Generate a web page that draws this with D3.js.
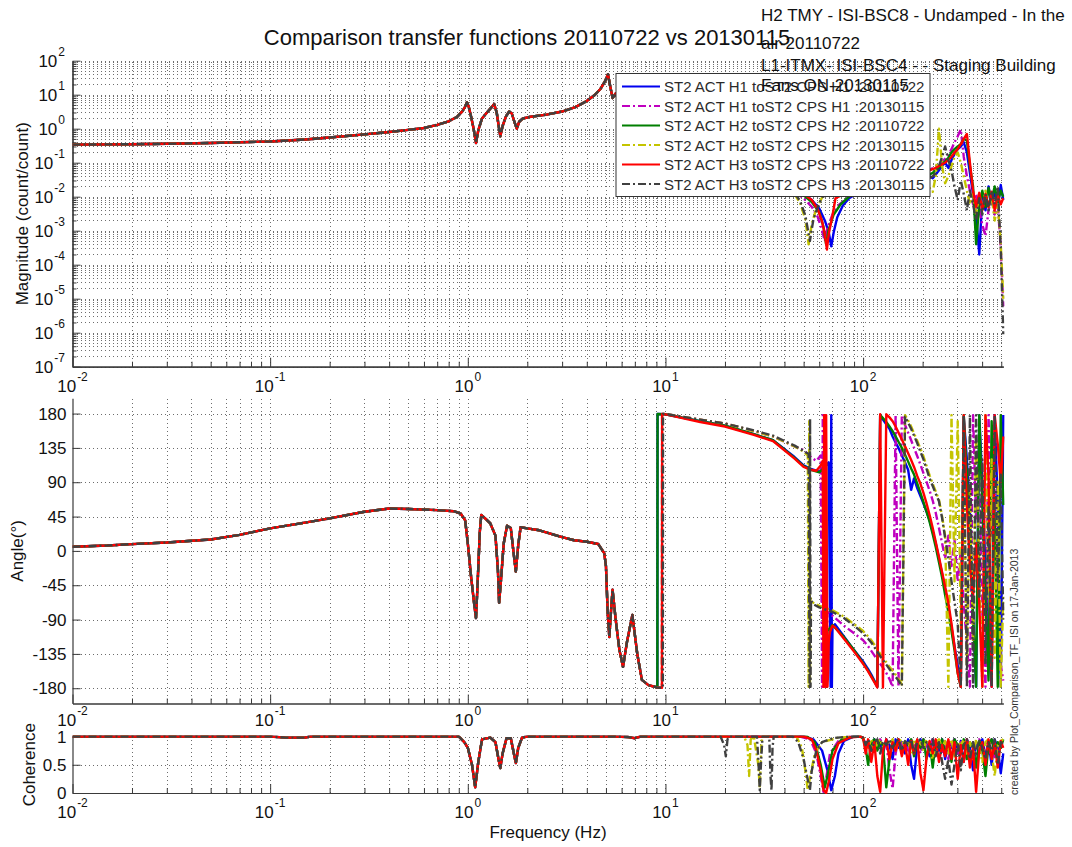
<!DOCTYPE html>
<html>
<head>
<meta charset="utf-8">
<script src="https://d3js.org/d3.v7.min.js"></script>
<style>
  html, body { margin: 0; padding: 0; background: #fff; }
  svg { display: block; font-family: "Liberation Sans", Arial, Helvetica, sans-serif; }
</style>
</head>
<body>
<svg id="chart" width="1072" height="847"></svg>
<script>
// ---------------------------------------------------------------------------
// Data: transfer functions ST2 ACT -> ST2 CPS, H1/H2/H3, two measurement dates
// Pairs are [frequency Hz, value]; the "Hi" arrays follow freqHi.
// ---------------------------------------------------------------------------

// Magnitude below 45 Hz (all six measurements lie on top of each other)
const magLow = [[0.01,0.34],[0.02,0.35],[0.03,0.36],[0.05,0.38],[0.07,0.4],[0.1,0.42],[0.15,0.48],[0.2,0.55],
  [0.3,0.68],[0.4,0.8],[0.5,0.92],[0.6,1.05],[0.7,1.3],[0.8,1.65],[0.88,2.2],[0.94,3.3],[0.97,4.5],[0.99,6.0],
  [1.01,4.5],[1.04,2.2],[1.07,1.0],[1.1,0.38],[1.13,0.9],[1.18,2.0],[1.25,3.0],[1.32,4.3],[1.36,5.3],[1.4,3.0],
  [1.43,1.3],[1.46,0.6],[1.5,1.2],[1.56,2.3],[1.62,3.2],[1.67,2.8],[1.72,1.6],[1.77,1.0],[1.82,1.6],[1.9,2.0],
  [2.04,2.2],[2.5,2.6],[3.0,3.2],[3.5,4.3],[4.0,6.5],[4.4,10],[4.7,15],[4.95,25],[5.12,40],[5.25,18],[5.4,8],
  [5.6,11],[5.9,5],[6.2,3.5],[6.5,4.5],[6.9,2.5],[7.5,1.8],[9,1.1],[12,0.6],[15,0.35],[20,0.17],[28,0.07],
  [35,0.035],[40,0.022]];

// Phase below 9 Hz (degrees)
const phaseLow = [[0.01,5.5],[0.015,7],[0.02,8.9],[0.03,11],[0.05,15],[0.07,21],[0.1,29.5],[0.15,37],[0.2,42.6],
  [0.3,51.3],[0.4,55.5],[0.5,55],[0.7,53.5],[0.85,52],[0.92,49],[0.97,40],[1.0,10],[1.04,-35],[1.08,-72],
  [1.1,-88],[1.12,-45],[1.15,25],[1.17,47],[1.22,43],[1.3,36],[1.38,20],[1.42,-25],[1.44,-68],[1.47,-40],
  [1.52,10],[1.58,33],[1.65,30],[1.7,0],[1.75,-27],[1.8,8],[1.85,31],[2.0,29.5],[2.3,27],[3.0,18],[3.45,14],
  [4.0,12],[4.57,9],[4.9,-3],[5.0,-20],[5.1,-80],[5.2,-113],[5.3,-80],[5.4,-51],[5.6,-90],[5.85,-130],
  [6.1,-152],[6.4,-118],[6.8,-84],[7.2,-135],[7.6,-169],[8.2,-176],[8.8,-178]];

// Coherence below 10 Hz
const cohLow = [[0.01,1],[0.1,1],[0.12,0.98],[0.15,0.98],[0.16,1],[0.9,1],[0.96,0.9],[1.0,0.8],[1.05,0.5],
  [1.09,0.1],[1.13,0.55],[1.18,0.95],[1.3,0.98],[1.38,0.9],[1.43,0.6],[1.46,0.44],[1.5,0.7],[1.57,0.97],
  [1.65,0.97],[1.71,0.7],[1.75,0.53],[1.8,0.8],[1.88,0.98],[2,1],[5.5,1],[6.5,0.99],[7,0.97],[7.5,1],[9.5,1]];

// Shared frequency grid for the high band
const freqHi = [100,103,106,110,114,118,122,126,131,136,141,146,151,157,163,169,175,181,188,195,202,209,217,
  225,233,242,251,260,270,280,290,301,312,323,335,347,360,373,387,401,416,431,447,463,480,497,512];

// --- H1, 20110722 ---
const magMidH1a = [[45,0.016],[50,0.012],[55,0.008],[60,0.0045],[64,0.002],[67,0.0009],[69,0.00035],[71,0.0009],
  [74,0.0025],[79,0.0055],[85,0.009],[92,0.012]];
const magHiH1a = [0.015,0.016,0.017,0.019,0.02,0.022,0.023,0.025,0.026,0.028,0.03,0.032,0.034,0.035,0.037,
  0.04,0.042,0.045,0.05,0.055,0.06,0.05,0.04,0.035,0.045,0.06,0.08,0.1,0.07,0.12,0.18,0.25,0.3,0.4,0.2,
  0.05,0.012,0.003,0.0002,0.01,0.004,0.02,0.006,0.015,0.005,0.022,0.008];
const phaseMidH1a = [[9.0,-179],[9.1,-179.5],[9.12,179.5],[10,179],[15,170],[20,164],[28,153],[35,145],[45,123],
  [50,112],[55,107],[60,104],[64,110],[67,116],[68.5,-178],[69,178],[69.5,-178],[70,-100],[72,-96],[80,-112],[90,-130]];
const phaseHiH1a = [-145,-150,-155,-162,-170,-178,178,172,166,160,150,142,135,125,116,106,80,95,82,72,62,52,40,25,
  10,-10,-30,-50,-75,-100,-125,-150,-178,175,120,50,-90,-178,178,90,-20,-120,-178,178,60,-178,178];
const cohMidH1a = [[10,1],[50,1],[56,0.95],[62,0.75],[66,0.4],[69,0.05],[72,0.3],[75,0.7],[80,0.92],[90,1],[97,1]];
const cohHiH1a = [0.97,0.85,0.92,0.75,0.95,0.8,0.9,0.7,0.95,0.85,0.6,0.95,0.8,0.9,0.7,0.95,0.5,0.25,0.85,0.95,
  0.8,0.9,0.65,0.95,0.85,0.75,0.95,0.6,0.9,0.8,0.95,0.7,0.92,0.55,0.95,0.8,0.4,0.9,0.75,0.95,0.65,0.9,0.5,0.95,
  0.8,0.35,0.7];

// --- H1, 20130115 ---
const magMidH1b = [[45,0.014],[50,0.009],[55,0.005],[59,0.0025],[62,0.001],[64,0.0005],[66,0.0012],[70,0.003],
  [76,0.006],[85,0.01],[92,0.012]];
const magHiH1b = [0.014,0.015,0.016,0.017,0.018,0.02,0.021,0.022,0.024,0.025,0.027,0.028,0.03,0.032,0.034,
  0.036,0.038,0.04,0.043,0.046,0.05,0.055,0.06,0.07,0.08,0.09,0.11,0.13,0.17,0.25,0.4,0.6,0.95,0.15,0.04,
  0.015,0.006,0.012,0.004,0.0015,0.0007,0.004,0.01,0.003,0.006,0.0003,0.000006];
const phaseMidH1b = [[9.0,-179],[9.6,-179.5],[9.62,179.5],[10,179.5],[15,172],[20,167],[28,157],[35,150],[45,137],
  [50,132],[55,122],[58,118],[61,125],[62,-178],[62.5,178],[63.5,-178],[64,178],[65,-178],[66,-80],[70,-85],
  [80,-98],[90,-108]];
const phaseHiH1b = [-117,-121,-125,-131,-137,-143,-148,-153,-160,-168,-178,178,-178,178,165,155,145,135,124,113,
  102,91,79,66,50,30,10,-10,20,-20,15,-40,0,-70,-120,-178,178,40,100,-80,-178,178,20,80,-60,-150,-170];
const cohMidH1b = [[10,1],[48,1],[54,0.95],[58,0.7],[61,0.3],[63,0.02],[65,0.25],[68,0.7],[75,0.92],[85,1],[97,1]];
const cohHiH1b = [0.97,0.85,0.95,0.8,0.92,0.75,0.95,0.85,0.9,0.4,0.08,0.7,0.95,0.85,0.9,0.75,0.95,0.8,0.92,0.7,
  0.95,0.85,0.75,0.95,0.8,0.9,0.7,0.95,0.6,0.88,0.95,0.7,0.9,0.8,0.95,0.65,0.9,0.55,0.95,0.8,0.9,0.7,0.95,0.6,
  0.85,0.9,0.95];

// --- H2, 20110722 ---
const magMidH2a = [[45,0.015],[50,0.011],[55,0.007],[60,0.0035],[63,0.0013],[65,0.0004],[67,0.0011],[71,0.003],
  [77,0.006],[85,0.01],[92,0.013]];
const magHiH2a = [0.016,0.017,0.018,0.019,0.02,0.021,0.023,0.024,0.026,0.027,0.029,0.031,0.033,0.035,0.037,
  0.039,0.041,0.043,0.046,0.05,0.054,0.05,0.045,0.05,0.06,0.07,0.09,0.11,0.14,0.2,0.25,0.3,0.35,0.5,0.45,
  0.08,0.02,0.0004,0.006,0.015,0.005,0.018,0.008,0.02,0.007,0.015,0.01];
const phaseMidH2a = [[9.0,-179],[9.1,-179.5],[9.12,179.5],[10,179],[15,170],[20,164],[28,153],[35,145],[45,122],
  [50,111],[55,106],[60,103],[63,108],[65,115],[65.5,-178],[66,-105],[70,-97],[80,-113],[90,-130]];
const phaseHiH2a = [-147,-152,-157,-164,-171,-178,178,174,169,163,157,150,143,135,126,117,108,100,88,76,64,52,38,
  22,5,-15,-35,-58,-80,-105,-130,-160,-178,178,100,20,-80,-178,178,60,-60,-170,170,40,-178,178,60];
const cohMidH2a = [[10,1],[52,1],[57,0.9],[61,0.5],[64,0.1],[66,0.3],[70,0.75],[78,0.95],[90,1],[97,1]];
const cohHiH2a = [0.96,0.8,0.5,0.9,0.95,0.75,0.9,0.85,0.1,0.6,0.92,0.8,0.95,0.7,0.9,0.85,0.95,0.65,0.9,0.8,
  0.95,0.6,0.9,0.45,0.92,0.8,0.95,0.7,0.9,0.55,0.95,0.85,0.7,0.95,0.6,0.9,0.8,0.45,0.92,0.75,0.3,0.85,0.95,0.7,
  0.9,0.8,0.95];

// --- H2, 20130115 ---
const magMidH2b = [[45,0.012],[48,0.0065],[51,0.0022],[53,0.0004],[55,0.0016],[58,0.0045],[62,0.0095],[70,0.015],
  [80,0.019],[92,0.023]];
const magHiH2b = [0.025,0.025,0.026,0.027,0.028,0.029,0.03,0.03,0.031,0.032,0.033,0.033,0.034,0.034,0.033,
  0.032,0.03,0.028,0.026,0.024,0.022,0.02,0.018,0.014,0.04,1.0,0.08,0.025,0.04,0.08,0.15,0.2,0.1,0.04,0.015,
  0.006,0.012,0.003,0.012,0.004,0.015,0.005,0.01,0.002,0.006,0.0004,0.00001];
const phaseMidH2b = [[9.0,-179],[9.6,-179.5],[9.62,179.5],[10,179.5],[15,172],[20,167],[28,157],[35,150],[45,137],
  [50,130],[52.5,125],[53,-178],[53.4,170],[53.8,-178],[54.2,-62],[56,-68],[60,-72],[70,-78],[80,-86],[90,-96]];
const phaseHiH2b = [-105,-109,-112,-117,-123,-129,-135,-140,-146,-152,-157,-162,-168,-175,178,171,163,154,144,134,
  124,112,99,88,78,67,45,20,-178,178,-40,170,-100,120,-150,80,-120,150,-20,-178,178,-60,120,-140,90,-178,-60];
const cohMidH2b = [[10,1],[25,1],[26,0.85],[26.5,0.3],[27,0.95],[28,1],[29.5,0.5],[30,0.1],[30.6,0.9],[31,1],
  [46,1],[49,0.8],[51,0.4],[52.5,0.05],[54,0.3],[57,0.7],[62,0.9],[75,0.98],[97,1]];
const cohHiH2b = [0.98,0.9,0.8,0.95,0.7,0.9,0.95,0.8,0.92,0.85,0.95,0.75,0.9,0.95,0.8,0.92,0.7,0.95,0.85,0.9,
  0.75,0.95,0.8,0.6,0.9,0.95,0.8,0.92,0.7,0.95,0.65,0.9,0.85,0.95,0.7,0.9,0.6,0.95,0.8,0.55,0.9,0.95,0.7,0.3,
  0.85,0.92,0.95];

// --- H3, 20110722 ---
const magMidH3a = [[45,0.015],[50,0.012],[55,0.008],[59,0.0042],[62,0.0019],[64,0.0008],[65.6,0.00028],[67,0.0008],
  [70,0.0028],[72.5,0.009],[80,0.012],[92,0.014]];
const magHiH3a = [0.016,0.017,0.018,0.02,0.021,0.022,0.023,0.025,0.026,0.027,0.029,0.03,0.032,0.034,0.036,
  0.038,0.04,0.042,0.045,0.048,0.052,0.056,0.06,0.065,0.07,0.08,0.09,0.1,0.12,0.15,0.2,0.25,0.35,0.5,0.7,
  0.1,0.015,0.005,0.013,0.004,0.012,0.005,0.014,0.004,0.011,0.006,0.009];
const phaseMidH3a = [[9.0,-179],[9.6,-179.5],[9.62,179.5],[10,179],[15,169],[20,163],[28,152],[35,144],[45,121],
  [50,110],[55,106],[58,105],[61,112],[62.5,118],[63,-178],[63.5,178],[64.5,-178],[65,178],[66,-178],[66.5,-160],
  [67,-120],[68,-106],[70,-98],[72,-100],[80,-115],[90,-132]];
const phaseHiH3a = [-148,-153,-158,-165,-172,-179,179,-179,179,175,170,163,155,146,137,128,119,110,98,88,76,63,47,
  30,12,-8,-28,-47,-68,-95,-125,-160,-178,178,60,-20,-60,10,-70,-178,178,100,-178,178,140,90,150];
const cohMidH3a = [[10,1],[50,1],[55,0.95],[58,0.75],[61,0.4],[63,0.05],[65,0.0],[67,0.2],[70,0.6],[75,0.88],
  [85,0.98],[97,1]];
const cohHiH3a = [0.98,0.7,0.95,0.55,0.9,0.3,0.02,0.75,0.95,0.6,0.9,0.75,0.95,0.65,0.88,0.5,0.92,0.7,0.95,0.35,
  0.05,0.6,0.92,0.7,0.95,0.55,0.85,0.65,0.95,0.6,0.9,0.25,0.85,0.55,0.95,0.45,0.8,0.02,0.75,0.9,0.5,0.95,0.6,
  0.88,0.45,0.92,0.8];

// --- H3, 20130115 ---
const magMidH3b = [[45,0.013],[48,0.0075],[51,0.0028],[53.8,0.0005],[56,0.0021],[59,0.005],[62,0.0097],[70,0.014],
  [80,0.019],[92,0.023]];
const magHiH3b = [0.025,0.026,0.027,0.028,0.029,0.03,0.031,0.032,0.033,0.034,0.035,0.036,0.036,0.036,0.035,
  0.034,0.033,0.032,0.031,0.03,0.03,0.032,0.035,0.04,0.05,0.08,0.15,0.3,0.12,0.06,0.02,0.008,0.03,0.012,0.004,
  0.015,0.006,0.002,0.009,0.003,0.012,0.004,0.015,0.006,0.02,0.0003,0.0000009];
const phaseMidH3b = [[9.0,-179],[9.7,-179.5],[9.72,179.5],[10,179.5],[15,172],[20,167],[28,158],[35,151],[45,138],
  [50,131],[53,127],[53.6,-178],[53.9,173],[54.2,-178],[54.5,-65],[56,-70],[60,-74],[70,-80],[80,-88],[90,-98]];
const phaseHiH3b = [-108,-112,-115,-120,-126,-132,-138,-143,-149,-155,-160,-165,-170,-177,176,168,160,151,141,130,
  120,108,95,85,75,65,43,17,-10,-40,-67,-95,-178,178,-178,178,-178,178,-60,120,-150,60,-178,178,-40,100,-90];
const cohMidH3b = [[10,1],[19,1],[19.8,0.85],[20.2,0.65],[20.6,0.95],[21,1],[29,1],[29.5,0.6],[30,0.05],[30.5,0.6],
  [31,1],[33.5,1],[34,0.3],[34.4,0.05],[34.8,0.8],[35.3,1],[44,1],[47,0.9],[50,0.6],[52,0.3],[53.8,0.05],[55,0.4],
  [58,0.75],[62,0.9],[70,0.97],[85,1],[97,1]];
const cohHiH3b = [0.98,0.85,0.95,0.75,0.9,0.95,0.7,0.92,0.85,0.95,0.8,0.9,0.95,0.75,0.92,0.85,0.95,0.7,0.9,0.95,
  0.8,0.9,0.75,0.95,0.65,0.9,0.55,0.25,0.6,0.15,0.5,0.9,0.4,0.85,0.95,0.6,0.9,0.7,0.95,0.8,0.6,0.9,0.75,0.95,
  0.5,0.9,0.85];

// Legend labels, in plotting order
const seriesLabels = [
  "ST2 ACT H1 toST2 CPS H1 :20110722",
  "ST2 ACT H1 toST2 CPS H1 :20130115",
  "ST2 ACT H2 toST2 CPS H2 :20110722",
  "ST2 ACT H2 toST2 CPS H2 :20130115",
  "ST2 ACT H3 toST2 CPS H3 :20110722",
  "ST2 ACT H3 toST2 CPS H3 :20130115"
];

// Tick labels
const freqTickExps = [-2, -1, 0, 1, 2];
const magTickExps = [2, 1, 0, -1, -2, -3, -4, -5, -6, -7];
const phaseTicks = [180, 135, 90, 45, 0, -45, -90, -135, -180];
const cohTicks = [1, 0.5, 0];

// ---------------------------------------------------------------------------
// Layout and styling
// ---------------------------------------------------------------------------
const W = 1072, H = 847;
const left = 72.5, right = 1003.3;
const magBox = { top: 60.7, bottom: 366.7 };
const phBox = { top: 398.3, bottom: 703.5 };
const cohBox = { top: 736.5, bottom: 793 };

const styles = [
  { color: "#0000f0", dash: null },
  { color: "#bf00bf", dash: "8,3,2,3" },
  { color: "#007f00", dash: null },
  { color: "#c4c400", dash: "8,3,2,3" },
  { color: "#ff0000", dash: null },
  { color: "#404040", dash: "8,3,2,3" }
];

const hi = vals => freqHi.map((f, i) => [f, vals[i]]);
const series = [
  [magMidH1a, magHiH1a, phaseMidH1a, phaseHiH1a, cohMidH1a, cohHiH1a],
  [magMidH1b, magHiH1b, phaseMidH1b, phaseHiH1b, cohMidH1b, cohHiH1b],
  [magMidH2a, magHiH2a, phaseMidH2a, phaseHiH2a, cohMidH2a, cohHiH2a],
  [magMidH2b, magHiH2b, phaseMidH2b, phaseHiH2b, cohMidH2b, cohHiH2b],
  [magMidH3a, magHiH3a, phaseMidH3a, phaseHiH3a, cohMidH3a, cohHiH3a],
  [magMidH3b, magHiH3b, phaseMidH3b, phaseHiH3b, cohMidH3b, cohHiH3b]
].map((d, i) => ({
  label: seriesLabels[i],
  color: styles[i].color,
  dash: styles[i].dash,
  mag: magLow.concat(d[0], hi(d[1])),
  phase: phaseLow.concat(d[2], hi(d[3])),
  coh: cohLow.concat(d[4], hi(d[5]))
}));

// Scales
const x = d3.scaleLog().domain([0.01, 512]).range([left, right]);
const yMag = d3.scaleLog().domain([1e-7, 1e2]).range([magBox.bottom, magBox.top]);
const yPh = d3.scaleLinear().domain([-200, 200]).range([phBox.bottom, phBox.top]);
const yCoh = d3.scaleLinear().domain([0, 1]).range([cohBox.bottom, cohBox.top]);

// tick positions on log axes: 1..9 x 10^k
function logSteps(lo, hi, majorOnly) {
  const out = [];
  for (let e = Math.floor(Math.log10(lo)); e <= Math.ceil(Math.log10(hi)); e++) {
    for (let m = 1; m <= 9; m++) {
      if (majorOnly && m > 1) continue;
      const v = +(m * Math.pow(10, e)).toPrecision(3);
      if (v >= lo * 0.999 && v <= hi * 1.001) out.push(v);
    }
  }
  return out;
}
const xAll = logSteps(0.01, 512, false);
const xMajor = logSteps(0.01, 512, true);
const xMinor = xAll.filter(v => !xMajor.includes(v));
const magAll = logSteps(1e-7, 100, false);
const magMajor = logSteps(1e-7, 100, true);
const magMinor = magAll.filter(v => !magMajor.includes(v));

const svg = d3.select("#chart");
svg.append("rect").attr("width", W).attr("height", H).attr("fill", "#fff");
const defs = svg.append("defs");

const GRID = "#3c3c3c", AXIS = "#3a3a3a", TXT = "#111";

function styleGrid(sel) {
  sel.select(".domain").remove();
  sel.selectAll("text").remove();
  sel.selectAll("line").attr("stroke", GRID).attr("stroke-width", 1).attr("stroke-opacity", 0.75)
    .attr("stroke-dasharray", "1,3").attr("shape-rendering", "crispEdges");
}
function styleTicks(sel) {
  sel.selectAll("text").remove();
  sel.select(".domain").attr("stroke", AXIS).attr("stroke-width", 1.2);
  sel.selectAll("line").attr("stroke", AXIS).attr("stroke-width", 1);
}

function buildPanel(id, box, yScale, yGridVals, yMajorVals, yMinorVals) {
  const g = svg.append("g").attr("class", id);
  const h = box.bottom - box.top;
  // grid
  g.append("g").attr("transform", `translate(0,${box.bottom})`)
    .call(d3.axisBottom(x).tickValues(xAll.filter(v => v > 0.0101)).tickSize(-h).tickFormat(""))
    .call(styleGrid);
  g.append("g").attr("transform", `translate(${left},0)`)
    .call(d3.axisLeft(yScale).tickValues(yGridVals).tickSize(-(right - left)).tickFormat(""))
    .call(styleGrid);
  // clip region for data
  defs.append("clipPath").attr("id", "clip-" + id).append("rect")
    .attr("x", left).attr("y", box.top - 1).attr("width", right - left + 1.5).attr("height", h + 2);
  const data = g.append("g").attr("clip-path", `url(#clip-${id})`);
  // axes (inward ticks, no box)
  const axes = g.append("g");
  axes.append("g").attr("transform", `translate(0,${box.bottom})`)
    .call(d3.axisBottom(x).tickValues(xMajor).tickSizeInner(-9).tickSizeOuter(0).tickFormat(""))
    .call(styleTicks);
  axes.append("g").attr("transform", `translate(0,${box.bottom})`)
    .call(d3.axisBottom(x).tickValues(xMinor).tickSizeInner(-5).tickSizeOuter(0).tickFormat(""))
    .call(styleTicks);
  axes.append("g").attr("transform", `translate(${left},0)`)
    .call(d3.axisLeft(yScale).tickValues(yMajorVals).tickSizeInner(-8).tickSizeOuter(0).tickFormat(""))
    .call(styleTicks);
  if (yMinorVals) {
    axes.append("g").attr("transform", `translate(${left},0)`)
      .call(d3.axisLeft(yScale).tickValues(yMinorVals).tickSizeInner(-4).tickSizeOuter(0).tickFormat(""))
      .call(styleTicks);
  }
  return { g, data, axes };
}

const pMag = buildPanel("mag", magBox, yMag, magAll, magMajor, magMinor);
const pPh = buildPanel("ph", phBox, yPh, phaseTicks, phaseTicks, null);
const pCoh = buildPanel("coh", cohBox, yCoh, [0.5, 1], cohTicks, null);
// data above grid and axes
[pMag, pPh, pCoh].forEach(p => p.data.raise());

function drawLines(panel, key, yScale) {
  const line = d3.line().x(d => x(d[0])).y(d => yScale(d[1]));
  series.forEach(s => {
    panel.data.append("path")
      .attr("d", line(s[key]))
      .attr("fill", "none")
      .attr("stroke", s.color)
      .attr("stroke-width", 2.4)
      .attr("stroke-linejoin", "round")
      .attr("stroke-dasharray", s.dash);
  });
}
drawLines(pMag, "mag", yMag);
drawLines(pPh, "phase", yPh);
drawLines(pCoh, "coh", yCoh);

// ---------------------------------------------------------------------------
// Tick labels
// ---------------------------------------------------------------------------
function powText(sel, exp) {
  sel.append("tspan").text("10");
  sel.append("tspan").attr("dy", -11).attr("dx", 1).attr("font-size", 12).text(String(exp));
}
[[magBox, 391.5], [phBox, 726], [cohBox, 818]].forEach(([box, base]) => {
  freqTickExps.forEach(e => {
    const t = svg.append("text").attr("x", x(Math.pow(10, e))).attr("y", base)
      .attr("text-anchor", "middle").attr("font-size", 17).attr("fill", TXT);
    powText(t, e);
  });
});
magTickExps.forEach(e => {
  const t = svg.append("text").attr("x", 65).attr("y", yMag(Math.pow(10, e)) + 6)
    .attr("text-anchor", "end").attr("font-size", 17).attr("fill", TXT);
  powText(t, e);
});
phaseTicks.forEach(v => {
  svg.append("text").attr("x", 66.5).attr("y", yPh(v) + 6).attr("text-anchor", "end")
    .attr("font-size", 17).attr("fill", TXT).text(String(v));
});
cohTicks.forEach(v => {
  svg.append("text").attr("x", 66.5).attr("y", yCoh(v) + 6).attr("text-anchor", "end")
    .attr("font-size", 17).attr("fill", TXT).text(String(v));
});

// Axis titles
svg.append("text").attr("transform", `translate(27.5,${(magBox.top + magBox.bottom) / 2}) rotate(-90)`)
  .attr("text-anchor", "middle").attr("font-size", 17).attr("fill", TXT).text("Magnitude (count/count)");
svg.append("text").attr("transform", `translate(23,${(phBox.top + phBox.bottom) / 2}) rotate(-90)`)
  .attr("text-anchor", "middle").attr("font-size", 17).attr("fill", TXT).text("Angle(°)");
svg.append("text").attr("transform", `translate(34.5,${(cohBox.top + cohBox.bottom) / 2}) rotate(-90)`)
  .attr("text-anchor", "middle").attr("font-size", 17).attr("fill", TXT).text("Coherence");
svg.append("text").attr("x", 548).attr("y", 838).attr("text-anchor", "middle")
  .attr("font-size", 17).attr("fill", TXT).text("Frequency (Hz)");

// Title
svg.append("text").attr("x", 527).attr("y", 45).attr("text-anchor", "middle")
  .attr("font-size", 22).attr("fill", TXT).text("Comparison transfer functions 20110722 vs 20130115");

// ---------------------------------------------------------------------------
// Legend
// ---------------------------------------------------------------------------
const lg = svg.append("g");
lg.append("rect").attr("x", 616).attr("y", 73.5).attr("width", 314).attr("height", 123)
  .attr("fill", "#fff").attr("stroke", "#333").attr("stroke-width", 1);
series.forEach((s, i) => {
  const cy = 86.5 + i * 19.5;
  lg.append("line").attr("x1", 622).attr("x2", 660).attr("y1", cy).attr("y2", cy)
    .attr("stroke", s.color).attr("stroke-width", 2).attr("stroke-dasharray", s.dash);
  lg.append("text").attr("x", 664).attr("y", cy + 5.5).attr("font-size", 15).attr("fill", "#2a2a2a")
    .text(s.label);
});

// Measurement description (drawn over the legend)
const notes = [
  ["H2 TMY - ISI-BSC8 - Undamped - In the", 21],
  ["air-20110722", 49],
  ["L1-ITMX- ISI-BSC4 - - Staging Building", 71],
  ["Fans ON-20130115", 91]
];
notes.forEach(([t, yb]) => {
  svg.append("text").attr("x", 761).attr("y", yb).attr("font-size", 17).attr("fill", TXT).text(t);
});

// Script stamp
svg.append("text").attr("transform", "translate(1018,795) rotate(-90)")
  .attr("font-size", 10.5).attr("fill", "#333")
  .text("created by Plot_Comparison_TF_ISI on 17-Jan-2013");
</script>
</body>
</html>
